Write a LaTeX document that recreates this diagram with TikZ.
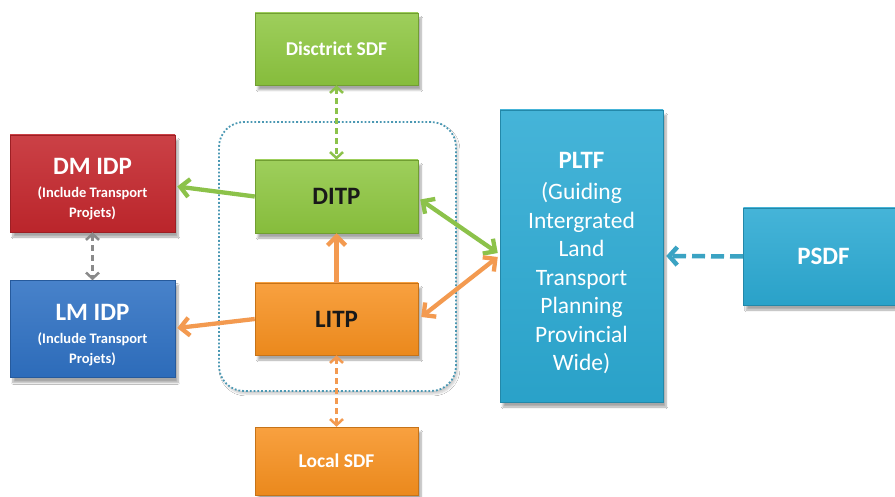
\documentclass[tikz,border=0pt]{standalone}
\usepackage{fontspec}
\setmainfont{Carlito}
\usetikzlibrary{arrows.meta,shadows,shadows.blur,calc}
\definecolor{cgreen}{HTML}{8DC63F}
\definecolor{cred}{HTML}{C4272D}
\definecolor{cblue}{HTML}{2F71C3}
\definecolor{corange}{HTML}{F7901E}
\definecolor{cteal}{HTML}{2CAAD3}
\definecolor{agreen}{HTML}{8CC24A}
\definecolor{aorange}{HTML}{F39A50}
\definecolor{agrey}{HTML}{8A8A8A}
\definecolor{ateal}{HTML}{3BA3C3}
\definecolor{cdot}{HTML}{4B98B3}
\tikzset{
  boxbase/.style={rectangle, align=center, inner sep=2pt, text=white, font=\bfseries,
    blur shadow={shadow xshift=3pt, shadow yshift=-5pt, shadow blur steps=8, shadow opacity=35}},
  greenbox/.style={boxbase, top color=cgreen!85!white, bottom color=cgreen!95!black, draw=cgreen!80!black, line width=0.5pt},
  redbox/.style={boxbase, top color=cred!88!white, bottom color=cred!95!black, draw=cred!80!black, line width=0.5pt},
  bluebox/.style={boxbase, top color=cblue!88!white, bottom color=cblue!95!black, draw=cblue!80!black, line width=0.5pt},
  orangebox/.style={boxbase, top color=corange!85!white, bottom color=corange!95!black, draw=corange!80!black, line width=0.5pt},
  tealbox/.style={boxbase, top color=cteal!88!white, bottom color=cteal!95!black, draw=cteal!80!black, line width=0.5pt},
  bigtxt/.style={font=\bfseries\fontsize{25}{30}\selectfont},
  sdftxt/.style={font=\bfseries\fontsize{19.5}{24}\selectfont},
  idptxt/.style={font=\bfseries\fontsize{14.5}{20}\selectfont},
  pltftxt/.style={font=\fontsize{23.5}{28.5}\selectfont},
  solidarrow/.style={line width=4.3pt, arrows={-Straight Barb[length=9pt,width=18pt]}},
  bisolid/.style={line width=4.3pt, arrows={Straight Barb[length=9pt,width=18pt]-Straight Barb[length=9pt,width=18pt]}},
  dashbi/.style={line width=2.5pt, dash pattern=on 6pt off 4pt, arrows={Straight Barb[length=6pt,width=13pt]-Straight Barb[length=6pt,width=13pt]}},
}
\begin{document}
\begin{tikzpicture}[x=1pt,y=-1pt]
\useasboundingbox (0,0) rectangle (895,497);
\clip (0,0) rectangle (895,497);
\fill[white] (0,0) rectangle (895,497);

% container
\node[draw=cdot, line width=1.8pt, dotted, rounded corners=25pt, fill=white,
      minimum width=237pt, minimum height=269pt,
      blur shadow={shadow xshift=2pt, shadow yshift=-3pt, shadow blur steps=6, shadow opacity=20}]
      (cont) at (337.5,256.5) {};

% nodes
\node[greenbox, sdftxt, minimum width=163pt, minimum height=72pt] (dsdf) at (336.5,49) {Disctrict SDF};
\node[greenbox, bigtxt, text=black!90, minimum width=163pt, minimum height=73pt] (ditp) at (336.5,196.5) {DITP};
\node[orangebox, bigtxt, text=black!90, minimum width=163pt, minimum height=72pt] (litp) at (336.5,319) {LITP};
\node[orangebox, sdftxt, minimum width=163pt, minimum height=68pt] (lsdf) at (336.5,461) {Local SDF};
\node[redbox, idptxt, minimum width=165pt, minimum height=97pt] (dm) at (92.5,183.5)
  {\rule{0pt}{28pt}{\fontsize{25}{28}\selectfont DM IDP}\\[3pt](Include Transport\\Projets)};
\node[bluebox, idptxt, minimum width=165pt, minimum height=97pt] (lm) at (92.5,329)
  {\rule{0pt}{28pt}{\fontsize{25}{28}\selectfont LM IDP}\\[3pt](Include Transport\\Projets)};
\node[tealbox, pltftxt, minimum width=163pt, minimum height=292pt] (pltf) at (581.5,256)
  {\rule{0pt}{30pt}{\bfseries\fontsize{25}{30}\selectfont PLTF}\\[3pt](Guiding\\Intergrated\\Land\\Transport\\Planning\\Provincial\\Wide)};
\node[tealbox, bigtxt, anchor=west, minimum width=165pt, minimum height=97pt, text width=145pt, align=left] (psdf) at (743,256.5) {\hspace*{44pt}PSDF};

% connectors
\draw[solidarrow, agreen] (ditp.west) -- ($(dm.east)+(2,3)$);
\draw[solidarrow, aorange] (litp.west) -- ($(lm.east)+(2,-1)$);
\draw[solidarrow, aorange] (litp.north) -- (ditp.south);
\draw[bisolid, agreen] ($(ditp.east)+(2,3)$) -- ($(pltf.west)+(-2,-3)$);
\draw[bisolid, aorange] ($(litp.east)+(3,-2)$) -- ($(pltf.west)+(-2,1)$);
\draw[dashbi, agreen] (dsdf.south) -- (ditp.north);
\draw[dashbi, aorange] (litp.south) -- (lsdf.north);
\draw[dashbi, agrey] (dm.south) -- (lm.north);
\draw[ateal, line width=4.5pt, dash pattern=on 13pt off 6pt, arrows={-Straight Barb[length=8pt,width=18pt]}] (psdf.west) -- ($(pltf.east)+(3,0)$);
\end{tikzpicture}
\end{document}
